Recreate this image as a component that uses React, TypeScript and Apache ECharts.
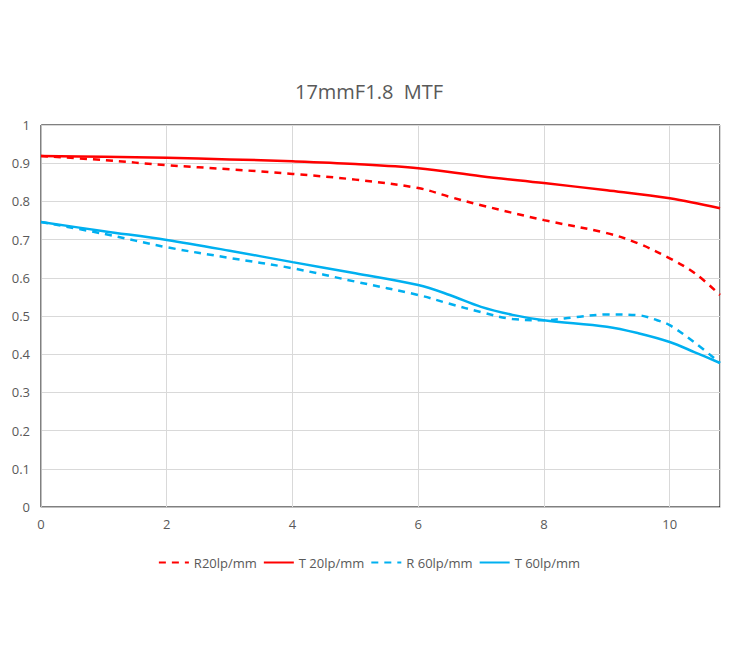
import React, { useEffect, useRef } from "react";
import * as echarts from "echarts";

const titleText = "17mmF1.8  MTF";
const seriesNames = ["R20lp/mm", "T 20lp/mm", "R 60lp/mm", "T 60lp/mm"];

const r20X = [0, 1, 2, 3, 4, 5, 6, 6.5, 7, 8, 9, 9.5, 10, 10.4, 10.8];
const r20Y = [0.919, 0.908, 0.895, 0.884, 0.872, 0.857, 0.835, 0.812, 0.79, 0.751, 0.717, 0.69, 0.651, 0.612, 0.555];

const t20X = [0, 1, 2, 3, 4, 5, 6, 7, 8, 9, 10, 10.8];
const t20Y = [0.919, 0.917, 0.914, 0.91, 0.905, 0.898, 0.887, 0.866, 0.848, 0.829, 0.808, 0.782];

const r60X = [0, 1, 2, 3, 4, 5, 6, 6.5, 7, 7.5, 8, 8.5, 9, 9.5, 9.8, 10, 10.4, 10.8];
const r60Y = [0.746, 0.715, 0.68, 0.652, 0.625, 0.59, 0.555, 0.532, 0.51, 0.492, 0.489, 0.497, 0.504, 0.502, 0.489, 0.476, 0.43, 0.377];

const t60X = [0, 1, 2, 3, 4, 5, 6, 6.5, 7, 7.5, 8, 9, 9.5, 10, 10.4, 10.8];
const t60Y = [0.746, 0.722, 0.699, 0.671, 0.641, 0.612, 0.581, 0.555, 0.524, 0.503, 0.489, 0.472, 0.455, 0.432, 0.405, 0.377];

const RED = "#ff0000";
const BLUE = "#00b0f0";
const TEXT = "#595959";
const FONT = "'Open Sans', sans-serif";

function pairs(xs: number[], ys: number[]) {
  return xs.map((x, i) => [x, ys[i]]);
}

export default function App() {
  const ref = useRef<HTMLDivElement>(null);
  useEffect(() => {
    if (!ref.current) return;
    const chart = echarts.init(ref.current, undefined, { renderer: "svg" });
    const mk = (name: string, data: number[][], color: string, dashed: boolean) => ({
      name,
      type: "line",
      data,
      smooth: 0.35,
      showSymbol: false,
      symbol: "none",
      lineStyle: { color, width: 2.5, type: dashed ? [7, 6] : "solid" },
      itemStyle: { color },
    });
    chart.setOption({
      animation: false,
      backgroundColor: "#ffffff",
      textStyle: { fontFamily: FONT },
      title: {
        text: titleText,
        left: "center",
        top: 76,
        textStyle: { fontSize: 20, fontWeight: "normal", color: TEXT, fontFamily: FONT },
      },
      legend: {
        top: 551,
        left: "center",
        itemWidth: 30,
        itemHeight: 10,
        itemGap: 6,
        itemStyle: { opacity: 0 },
        textStyle: { fontSize: 13, color: TEXT, fontFamily: FONT },
        data: seriesNames,
      },
      grid: {
        left: 41,
        right: 18,
        top: 125,
        bottom: 139,
        show: true,
        borderColor: "#000000",
        borderWidth: 1,
      },
      xAxis: {
        type: "value",
        min: 0,
        max: 10.8,
        interval: 2,
        axisLine: { show: true, lineStyle: { color: "#bfbfbf" } },
        axisTick: { show: false },
        axisLabel: { color: TEXT, fontSize: 13, margin: 10, showMaxLabel: false, fontFamily: FONT },
        splitLine: { show: true, lineStyle: { color: "#d9d9d9" } },
      },
      yAxis: {
        type: "value",
        min: 0,
        max: 1,
        interval: 0.1,
        axisLine: { show: true, lineStyle: { color: "#bfbfbf" } },
        axisTick: { show: false },
        axisLabel: { color: TEXT, fontSize: 13, margin: 11, fontFamily: FONT },
        splitLine: { show: true, lineStyle: { color: "#d9d9d9" } },
      },
      series: [
        mk(seriesNames[0], pairs(r20X, r20Y), RED, true),
        mk(seriesNames[1], pairs(t20X, t20Y), RED, false),
        mk(seriesNames[2], pairs(r60X, r60Y), BLUE, true),
        mk(seriesNames[3], pairs(t60X, t60Y), BLUE, false),
      ],
    });
    return () => chart.dispose();
  }, []);
  return (
    <div
      ref={ref}
      style={{ position: "fixed", left: 0, top: 0, width: 738, height: 646 }}
    />
  );
}
